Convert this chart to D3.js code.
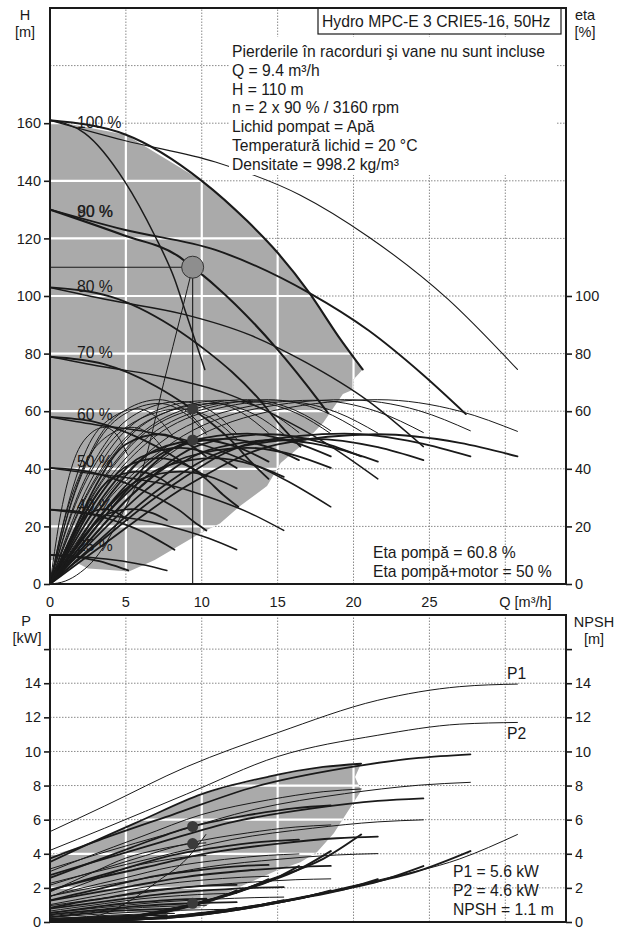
<!DOCTYPE html>
<html><head><meta charset="utf-8">
<script src="https://cdn.jsdelivr.net/npm/d3@7"></script>
<style>
body{margin:0;background:#fff;}
svg{display:block;font-family:"Liberation Sans",Arial,sans-serif;}
</style></head><body>
<svg id="c" width="620" height="929"></svg>
<script>
// ---------------- DATA ----------------
const hTicks = [0,20,40,60,80,100,120,140,160];
const etaTicks = [0,20,40,60,80,100];
const qTicks = [0,5,10,15,20,25];
const qGrid = [5,10,15,20,25,30];
const hGrid = [20,40,60,80,100,120,140,160,180];
const pTicks = [0,2,4,6,8,10,12,14];
const pGrid = [2,4,6,8,10,12,14,16];
const speedLabels = ["100 %","90 %","80 %","70 %","60 %","50 %","40 %","25 %"];
const speedLabelH = [158.5,127.5,101.5,78.5,57,40.5,25.5,11.5];

// QH curves: one pump at 100 %
const qh1 = [[0,161],[2.3,156.5],[4.9,140],[6.9,121],[8.2,106],[8.9,95],[10.2,74.5]];
// QH curves, two pumps, speeds 100..25 %
const qh2 = [
 [[0,161],[5,156],[10,140],[13,126],[15,115],[17.1,101],[19,86],[20.6,74.5]],
 [[0,130],[4.9,121],[8.4,114],[9.4,110],[10.9,103.5],[14.9,82],[17.8,63],[18.3,59.5]],
 [[0,103],[4,99.8],[8,89.6],[10.4,80.6],[12,73.6],[13.7,64.6],[15.2,55],[16.5,47.7]],
 [[0,78.9],[3.5,76.4],[7,68.6],[9.1,61.7],[10.5,56.4],[12,49.5],[13.3,42.1],[14.4,36.5]],
 [[0,58],[3,56.2],[6,50.4],[7.8,45.4],[9,41.4],[10.3,36.4],[11.4,31],[12.4,26.8]],
 [[0,40.3],[2.5,39],[5,35],[6.5,31.5],[7.5,28.8],[8.6,25.3],[9.5,21.5],[10.3,18.6]],
 [[0,25.8],[2,25],[4,22.4],[5.2,20.2],[6,18.4],[6.8,16.2],[7.6,13.8],[8.2,11.9]],
 [[0,10.1],[1.25,9.75],[2.5,8.75],[3.25,7.9],[3.75,7.2],[4.3,6.3],[4.75,5.4],[5.15,4.7]]
];
// QH curves, three pumps, speeds 100..25 %
const qh3 = [
 [[0,161],[4.9,154],[10.9,146.5],[16.5,135],[21,120.5],[26.2,99],[30.8,74.5]],
 [[0,130],[4.9,123],[10.9,116],[17.1,101],[21,88],[24.5,73],[27.4,59]],
 [[0,103],[3.9,98.6],[8.7,93.8],[13.2,86.4],[16.8,77.1],[21,63.4],[24.6,47.7]],
 [[0,78.9],[3.4,75.5],[7.6,71.8],[11.6,66.2],[14.7,59],[18.3,48.5],[21.6,36.5]],
 [[0,58],[2.9,55.4],[6.5,52.7],[9.9,48.6],[12.6,43.4],[15.7,35.6],[18.5,26.8]],
 [[0,40.3],[2.5,38.5],[5.5,36.6],[8.3,33.8],[10.5,30.1],[13.1,24.8],[15.4,18.6]],
 [[0,25.8],[2,24.6],[4.4,23.4],[6.6,21.6],[8.4,19.3],[10.5,15.8],[12.3,11.9]],
 [[0,10.1],[1.2,9.6],[2.7,9.2],[4.1,8.4],[5.3,7.5],[6.6,6.2],[7.7,4.7]]
];
const systemCurve = [[0,0],[1,1],[2,4],[3,9],[4,17],[5,27],[6.1,40],[7.5,70],[8.7,95],[9.4,110]];

// Flow points for eta / P / NPSH curves
const flow1 = [0,1.2,3,5,7.2,9,10.27];
const flow2 = [
 [0,2.4,6,10,14.4,18,20.5],[0,2.2,5.4,9,13,16.2,18.5],[0,1.9,4.8,8,11.5,14.4,16.4],[0,1.7,4.2,7,10.1,12.6,14.4],
 [0,1.4,3.6,6,8.6,10.8,12.3],[0,1.2,3,5,7.2,9,10.3],[0,1,2.4,4,5.8,7.2,8.2],[0,0.6,1.5,2.5,3.6,4.5,5.1]];
const flow3 = [
 [0,3.6,9,15,21.6,27,30.8],[0,3.2,8.1,13.5,19.4,24.3,27.7],[0,2.9,7.2,12,17.3,21.6,24.6],[0,2.5,6.3,10.5,15.1,18.9,21.6],
 [0,2.2,5.4,9,13,16.2,18.5],[0,1.8,4.5,7.5,10.8,13.5,15.4],[0,1.4,3.6,6,8.6,10.8,12.3],[0,0.9,2.3,3.8,5.4,6.8,7.7]];

// Efficiency (pump) per speed
const etaPump = [
 [0,25,49,60.5,64,60,53],[0,25.2,49.2,60.8,64,60.2,53.2],[0,25,48.8,60.4,63.8,59.8,52.6],[0,24.8,48.6,60.2,63.6,59.6,52.4],
 [0,24.7,48.4,60,63.4,59.4,52.2],[0,24.5,48,59.3,62.7,58.8,52],[0,23.8,46.6,57.5,60.8,57,50.4],[0,21.3,41.7,51.4,54.4,51,45]];
// Efficiency (pump + motor) per speed
const etaTotal = [
 [0,14,34,48.5,52,49,44.3],[0,14.2,34.4,49.2,52.2,49,44.3],[0,13.6,33,47,50.4,47.5,43],[0,13.4,32.6,46.6,50,47,42.5],
 [0,12.7,31,44.1,47.3,44.6,40.3],[0,11.8,28.6,40.7,43.7,41.2,37.2],[0,10.5,25.5,36.4,39,36.8,33.2],[0,7,17,24.3,26,24.5,22.2]];

// Power P1 / P2 [kW]
const p1_1 = [1.76,2.26,2.98,3.75,4.26,4.55,4.64];
const p2_1 = [1.48,1.9,2.5,3.15,3.58,3.82,3.9];
const p1_2 = [
 [3.52,4.52,5.95,7.5,8.52,9.09,9.28],[2.59,3.32,4.38,5.51,6.26,6.68,6.83],[1.84,2.36,3.1,3.91,4.44,4.73,4.83],[1.27,1.63,2.15,2.7,3.07,3.28,3.35],
 [0.83,1.07,1.4,1.77,2.01,2.15,2.18],[0.52,0.67,0.88,1.1,1.25,1.34,1.37],[0.29,0.38,0.5,0.63,0.71,0.76,0.78],[0.1,0.13,0.17,0.22,0.25,0.26,0.27]];
const p2_2 = [
 [2.96,3.8,5.0,6.3,7.16,7.64,7.8],[2.16,2.77,3.65,4.59,5.22,5.57,5.69],[1.52,1.95,2.56,3.23,3.67,3.91,3.99],[1.02,1.3,1.72,2.16,2.46,2.62,2.68],
 [0.64,0.82,1.08,1.36,1.55,1.65,1.68],[0.37,0.48,0.63,0.79,0.9,0.96,0.98],[0.19,0.24,0.32,0.4,0.46,0.49,0.5],[0.05,0.06,0.08,0.1,0.11,0.12,0.12]];
const p1_3 = [
 [5.3,6.8,9.1,11.1,13.0,13.8,13.95],[3.73,4.79,6.3,7.93,9.02,9.62,9.83],[2.75,3.53,4.65,5.86,6.66,7.1,7.25],[1.9,2.45,3.21,4.05,4.6,4.91,5.01],
 [1.25,1.6,2.11,2.65,3.02,3.22,3.29],[0.78,0.99,1.31,1.65,1.88,2.0,2.04],[0.44,0.57,0.74,0.94,1.07,1.14,1.16],[0.15,0.2,0.26,0.33,0.37,0.39,0.4]];
const p2_3 = [
 [4.2,5.5,7.5,9.7,10.95,11.6,11.7],[3.11,3.99,5.25,6.61,7.52,8.02,8.19],[2.27,2.92,3.84,4.84,5.5,5.87,5.99],[1.52,1.96,2.57,3.24,3.68,3.93,4.01],
 [0.96,1.23,1.62,2.04,2.32,2.48,2.53],[0.56,0.71,0.94,1.18,1.34,1.43,1.46],[0.28,0.36,0.48,0.6,0.69,0.73,0.75],[0.07,0.09,0.12,0.15,0.17,0.18,0.18]];
// NPSH [m] per speed
const npsh = [
 [0.2,0.22,0.35,1.1,2.45,3.7,5.13],[0.16,0.18,0.28,0.89,1.98,3.0,4.16],[0.13,0.14,0.22,0.7,1.57,2.37,3.28],[0.1,0.11,0.17,0.54,1.2,1.81,2.51],
 [0.07,0.08,0.13,0.4,0.88,1.33,1.85],[0.05,0.06,0.09,0.28,0.61,0.93,1.28],[0.03,0.04,0.06,0.18,0.39,0.59,0.82],[0.01,0.01,0.02,0.07,0.15,0.23,0.32]];

// Operating range (shaded)
const rangeTop = [[0,161],[5,156],[10,140],[13,126],[15,115],[17.1,101],[19,86],[20.6,74.5],[20.0,71],[20.0,67.5],[19.3,66],
 [18,56],[16.5,47.8],[15.2,42],[14.3,34],[12.5,27],[11.2,21],[9.9,17.6],[6.9,8.3],[5.2,4.3],[3.5,5],[2.5,5.4],[1.6,7.8],[0,8.3]];
const rangeBottom = [[0,3.9],[2.4,4.5],[6,5.95],[10,7.5],[14.4,8.52],[18,9.09],[20.5,9.3],[20.1,8.5],[20.5,7.7],[20,7],
 [18.7,5.2],[17.6,4.1],[16.5,3.5],[14.9,3.0],[12.1,1.9],[10.1,0.85],[8,0.55],[0,0.5]];

// Duty point
const dutyQ = 9.4, dutyH = 110, dutyEtaPump = 60.8, dutyEtaTotal = 50, dutyP1 = 5.6, dutyP2 = 4.6, dutyNPSH = 1.1;

const infoLines = ["Pierderile în racorduri şi vane nu sunt incluse","Q = 9.4 m³/h","H = 110 m","n = 2 x 90 % / 3160 rpm",
 "Lichid pompat = Apă","Temperatură lichid = 20 °C","Densitate = 998.2 kg/m³"];
const etaLines = ["Eta pompă = 60.8 %","Eta pompă+motor = 50 %"];
const powerLines = ["P1 = 5.6 kW","P2 = 4.6 kW","NPSH = 1.1 m"];
const title = "Hydro MPC-E 3 CRIE5-16, 50Hz";

// ---------------- DRAW ----------------
const svg = d3.select("#c");
const ink = "#1a1a1a";
const FS = 15.7;   // text size of the annotations
const TS = 14.5;   // tick label size
const x = d3.scaleLinear([0,34],[50,566]);
const yT = d3.scaleLinear([0,200],[584,8]);
const yB = d3.scaleLinear([0,18],[922,615]);
const zip = (qs, vs) => qs.map((q,i)=>[q, vs[i]]);
const curveT = d3.line().x(d=>x(d[0])).y(d=>yT(d[1])).curve(d3.curveMonotoneX);
const curveB = d3.line().x(d=>x(d[0])).y(d=>yB(d[1])).curve(d3.curveMonotoneX);
const polyT = d3.line().x(d=>x(d[0])).y(d=>yT(d[1]));
const polyB = d3.line().x(d=>x(d[0])).y(d=>yB(d[1]));

const defs = svg.append("defs");
defs.append("clipPath").attr("id","clipT").append("rect")
  .attr("x",x(0)).attr("y",yT(200)).attr("width",x(34)-x(0)).attr("height",yT(0)-yT(200));
defs.append("clipPath").attr("id","clipB").append("rect")
  .attr("x",x(0)).attr("y",yB(18)).attr("width",x(34)-x(0)).attr("height",yB(0)-yB(18));
defs.append("clipPath").attr("id","rangeT").append("path").attr("d",polyT(rangeTop)+"Z");
defs.append("clipPath").attr("id","rangeB").append("path").attr("d",polyB(rangeBottom)+"Z");

function txt(xx, yy, t, size, anchor){
  return svg.append("text").attr("x",xx).attr("y",yy).attr("font-size",size||FS).attr("fill",ink)
    .attr("text-anchor",anchor||"start").text(t);
}
function grid(g, y, yMax, hs, clip, white){
  const gg = g.append("g");
  if(clip) gg.attr("clip-path",clip);
  const st = white ? {s:"#fff",w:2.2,d:null} : {s:"#8a8a8a",w:1,d:"1.5,1.5"};
  qGrid.forEach(q=>gg.append("line").attr("x1",x(q)).attr("x2",x(q)).attr("y1",y(0)).attr("y2",y(yMax))
     .attr("stroke",st.s).attr("stroke-width",st.w).attr("stroke-dasharray",st.d));
  hs.forEach(h=>gg.append("line").attr("x1",x(0)).attr("x2",x(34)).attr("y1",y(h)).attr("y2",y(h))
     .attr("stroke",st.s).attr("stroke-width",st.w).attr("stroke-dasharray",st.d));
}
function path(g, gen, data, w){
  g.append("path").attr("d",gen(data)).attr("fill","none").attr("stroke",ink)
   .attr("stroke-width",w).attr("stroke-linejoin","round").attr("stroke-linecap","round");
}

// ===== TOP CHART =====
const gT = svg.append("g").attr("clip-path","url(#clipT)");
grid(gT, yT, 200, hGrid, null, false);
gT.append("path").attr("d",polyT(rangeTop)+"Z").attr("fill","#aaaaaa");
grid(gT, yT, 200, hGrid, "url(#rangeT)", true);

// efficiency curves
etaPump.forEach((e,i)=>{
  path(gT, curveT, zip(flow2[i], e), 1);
  path(gT, curveT, zip(flow3[i], e), 1);
});
path(gT, curveT, zip(flow1, etaPump[0]), 1);
etaTotal.forEach((e,i)=>{
  path(gT, curveT, zip(flow2[i], e), 1.8);
  path(gT, curveT, zip(flow3[i], e), 1.8);
});
path(gT, curveT, zip(flow1, etaTotal[0]), 1.8);

// QH curves
path(gT, curveT, qh1, 1.5);
qh2.forEach((c,i)=>path(gT, curveT, c, i<2?2.1:1.8));
qh3.forEach((c,i)=>path(gT, curveT, c, i===0?1.1:(i===1?1.9:1.5)));
path(gT, curveT, systemCurve, 1);
gT.append("line").attr("x1",x(dutyQ)).attr("x2",x(dutyQ)).attr("y1",yT(0)).attr("y2",yT(dutyH)).attr("stroke",ink).attr("stroke-width",1.1);
gT.append("line").attr("x1",x(0)).attr("x2",x(dutyQ)).attr("y1",yT(dutyH)).attr("y2",yT(dutyH)).attr("stroke",ink).attr("stroke-width",1.1);

// info text block with white background
gT.append("rect").attr("x",229).attr("y",37).attr("width",327).attr("height",138).attr("fill","#fff");
infoLines.forEach((t,i)=>txt(232, 57+i*18.8, t));

// speed labels
speedLabels.forEach((t,i)=>txt(77, yT(speedLabelH[i]), t));
// overprinted 90/80 label as in the original
txt(77.5, yT(speedLabelH[1])+0.5, "80 %").attr("opacity",0.75);

// duty markers
gT.append("circle").attr("cx",x(dutyQ)).attr("cy",yT(dutyH)).attr("r",11).attr("fill","#8e8e8e").attr("stroke","#333").attr("stroke-width",1);
gT.append("circle").attr("cx",x(dutyQ)).attr("cy",yT(dutyEtaPump)).attr("r",5.5).attr("fill","#3a3a3a");
gT.append("circle").attr("cx",x(dutyQ)).attr("cy",yT(dutyEtaTotal)).attr("r",5.5).attr("fill","#3a3a3a");

// eta texts
etaLines.forEach((t,i)=>txt(373, 558+i*19, t));

// title box
svg.append("rect").attr("x",318).attr("y",8).attr("width",243).attr("height",26).attr("fill","#fff").attr("stroke",ink).attr("stroke-width",1.2);
txt(322, 27, title);

// frame and axes
svg.append("rect").attr("x",x(0)).attr("y",yT(200)).attr("width",x(34)-x(0)).attr("height",yT(0)-yT(200))
  .attr("fill","none").attr("stroke",ink).attr("stroke-width",2);
function styleAxis(g){
  g.select(".domain").remove();
  g.selectAll(".tick line").attr("stroke",ink).attr("stroke-width",1.6);
  g.selectAll(".tick text").attr("font-size",TS).attr("fill",ink).attr("font-family","Liberation Sans, Arial, sans-serif");
}
svg.append("g").attr("transform",`translate(${x(0)},0)`).call(d3.axisLeft(yT).tickValues(hTicks).tickSize(6).tickPadding(3)).call(styleAxis);
svg.append("g").attr("transform",`translate(${x(34)},0)`).call(d3.axisRight(yT).tickValues(etaTicks).tickSize(6).tickPadding(3)).call(styleAxis);
txt(25, 20, "H", TS, "middle");
txt(25, 37, "[m]", TS, "middle");
txt(585, 20, "eta", TS, "middle");
txt(585, 37, "[%]", TS, "middle");

// shared Q axis labels
qTicks.forEach(q=>txt(x(q), 607, q, TS, "middle"));
txt(x(30)-6, 607, "Q [m³/h]", TS);

// ===== BOTTOM CHART =====
const gB = svg.append("g").attr("clip-path","url(#clipB)");
grid(gB, yB, 18, pGrid, null, false);
gB.append("path").attr("d",polyB(rangeBottom)+"Z").attr("fill","#aaaaaa");
grid(gB, yB, 18, pGrid, "url(#rangeB)", true);

// NPSH
path(gB, curveB, zip(flow1, npsh[0]), 1);
npsh.forEach((n,i)=>{
  path(gB, curveB, zip(flow2[i], n), 2);
  path(gB, curveB, zip(flow3[i], n), i===0?1:2);
});
// power
path(gB, curveB, zip(flow1, p1_1), 1);
path(gB, curveB, zip(flow1, p2_1), 1);
p1_2.forEach((p,i)=>path(gB, curveB, zip(flow2[i], p), 1.8));
p2_2.forEach((p,i)=>path(gB, curveB, zip(flow2[i], p), 1));
p1_3.forEach((p,i)=>path(gB, curveB, zip(flow3[i], p), i===0?1:1.8));
p2_3.forEach((p,i)=>path(gB, curveB, zip(flow3[i], p), 1));

gB.append("circle").attr("cx",x(dutyQ)).attr("cy",yB(dutyP1)).attr("r",5.5).attr("fill","#3a3a3a");
gB.append("circle").attr("cx",x(dutyQ)).attr("cy",yB(dutyP2)).attr("r",5.5).attr("fill","#3a3a3a");
gB.append("circle").attr("cx",x(dutyQ)).attr("cy",yB(dutyNPSH)).attr("r",5.5).attr("fill","#3a3a3a");

txt(507, yB(p1_3[0][6])-5, "P1");
txt(507, yB(p2_3[0][6])+17, "P2");
powerLines.forEach((t,i)=>txt(453, 877+i*19, t));

svg.append("rect").attr("x",x(0)).attr("y",yB(18)).attr("width",x(34)-x(0)).attr("height",yB(0)-yB(18))
  .attr("fill","none").attr("stroke",ink).attr("stroke-width",2);
svg.append("g").attr("transform",`translate(${x(0)},0)`).call(d3.axisLeft(yB).tickValues(pGrid.concat([0])).tickFormat(d=>pTicks.includes(d)?d:"").tickSize(6).tickPadding(3)).call(styleAxis);
svg.append("g").attr("transform",`translate(${x(34)},0)`).call(d3.axisRight(yB).tickValues(pGrid.concat([0])).tickFormat(d=>pTicks.includes(d)?d:"").tickSize(6).tickPadding(3)).call(styleAxis);
txt(26, 626, "P", TS, "middle");
txt(27, 643, "[kW]", TS, "middle");
txt(594, 627, "NPSH", TS, "middle");
txt(594, 644, "[m]", TS, "middle");
</script>
</body></html>
